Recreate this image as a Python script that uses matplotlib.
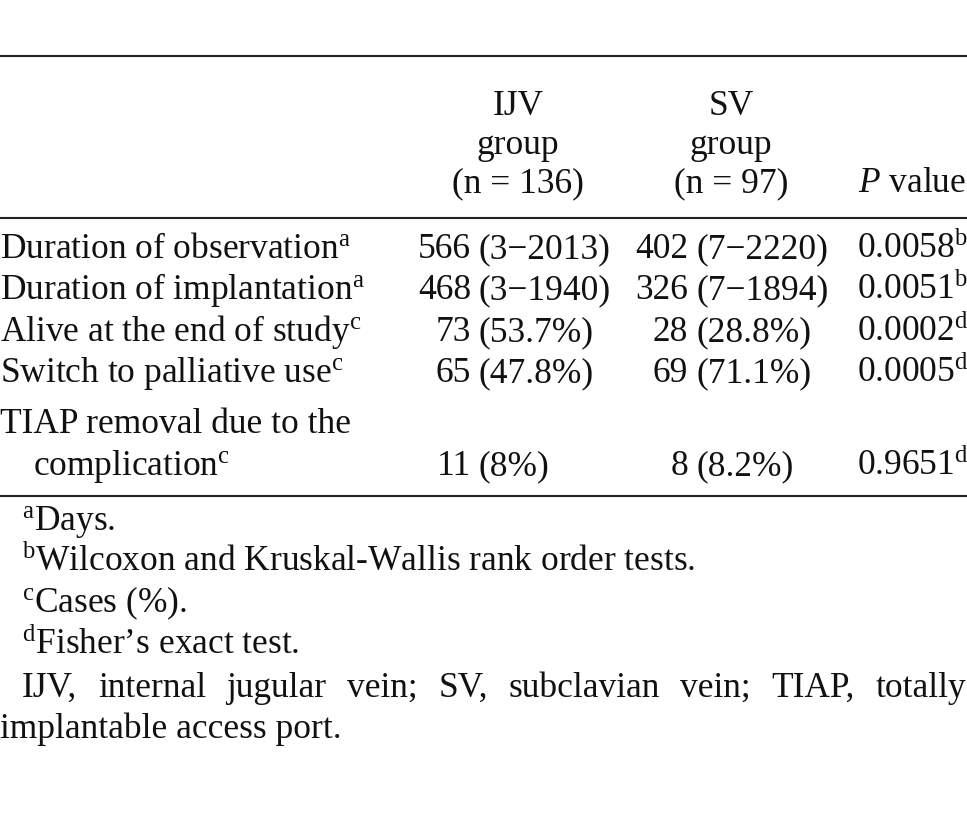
import matplotlib
matplotlib.use("Agg")
import matplotlib.pyplot as plt

plt.rcParams['font.family'] = ['Liberation Serif', 'DejaVu Serif']
plt.rcParams['mathtext.fontset'] = 'custom'
plt.rcParams['mathtext.rm'] = 'Liberation Serif'
plt.rcParams['mathtext.it'] = 'Liberation Serif:italic'

# ---- table content ----
header_ijv = ['IJV', 'group', '(n = 136)']
header_sv = ['SV', 'group', '(n = 97)']
row_labels = ['Duration of observation', 'Duration of implantation',
              'Alive at the end of study', 'Switch to palliative use',
              'TIAP removal due to the\ncomplication']
row_marks = ['a', 'a', 'c', 'c', 'c']
ijv_num = ['566', '468', '73', '65', '11']
ijv_paren = ['(3\u22122013)', '(3\u22121940)', '(53.7%)', '(47.8%)', '(8%)']
sv_num = ['402', '326', '28', '69', '8']
sv_paren = ['(7\u22122220)', '(7\u22121894)', '(28.8%)', '(71.1%)', '(8.2%)']
p_values = ['0.0058', '0.0051', '0.0002', '0.0005', '0.9651']
p_marks = ['b', 'b', 'd', 'd', 'd']
foot_marks = ['a', 'b', 'c', 'd']
foot_texts = ['Days.', 'Wilcoxon and Kruskal-Wallis rank order tests.',
              'Cases (%).', 'Fisher\u2019s exact test.']
abbrev_line1 = ['IJV,', 'internal', 'jugular', 'vein;', 'SV,', 'subclavian',
                'vein;', 'TIAP,', 'totally']
abbrev_line2 = 'implantable access port.'

W, H = 967, 829
fs = 25.5
ink = '#111111'

fig = plt.figure(figsize=(W / 100, H / 100), dpi=100)
ax = fig.add_axes([0, 0, 1, 1])
ax.set_xlim(0, W)
ax.set_ylim(H, 0)
ax.axis('off')


def sup(s):
    return r'$^{\mathrm{%s}}$' % s


# rules
for y in [57, 219, 497]:
    ax.plot([0, W], [y, y], color='#222222', lw=1.5, solid_capstyle='butt')

# header
hdr_y = [115, 154, 192]
for i in range(3):
    ax.text(518, hdr_y[i], header_ijv[i], ha='center', va='baseline', fontsize=fs, color=ink)
    ax.text(731, hdr_y[i], header_sv[i], ha='center', va='baseline', fontsize=fs, color=ink)
ax.text(966, hdr_y[2], r'$P$ value', ha='right', va='baseline', fontsize=fs, color=ink)

# body
row_y = [258, 299, 341, 382, 475]
for i, lab in enumerate(row_labels):
    y = row_y[i]
    if '\n' in lab:
        l1, l2 = lab.split('\n')
        ax.text(0, y - 42, l1, ha='left', va='baseline', fontsize=fs, color=ink)
        ax.text(33, y, l2 + sup(row_marks[i]), ha='left', va='baseline', fontsize=fs, color=ink)
    else:
        ax.text(0, y, lab + sup(row_marks[i]), ha='left', va='baseline', fontsize=fs, color=ink)
    ax.text(471, y, ijv_num[i], ha='right', va='baseline', fontsize=fs, color=ink)
    ax.text(479, y, ijv_paren[i], ha='left', va='baseline', fontsize=fs, color=ink)
    ax.text(688, y, sv_num[i], ha='right', va='baseline', fontsize=fs, color=ink)
    ax.text(696, y, sv_paren[i], ha='left', va='baseline', fontsize=fs, color=ink)
    ax.text(857, y, p_values[i] + sup(p_marks[i]), ha='left', va='baseline', fontsize=fs, color=ink)

# footnotes
foot_y = [530, 571, 612, 654]
for i in range(4):
    ax.text(22, foot_y[i], sup(foot_marks[i]) + foot_texts[i], ha='left', va='baseline',
            fontsize=fs, color=ink)

# justified abbreviation line
fig.canvas.draw()
r = fig.canvas.get_renderer()
words = []
for w in abbrev_line1:
    t = ax.text(0, 697, w, ha='left', va='baseline', fontsize=fs, color=ink)
    words.append(t)
widths = [t.get_window_extent(r).width for t in words]
x0, x1 = 22, 966
gap = (x1 - x0 - sum(widths)) / (len(words) - 1)
x = x0
for t, wd in zip(words, widths):
    t.set_x(x)
    x += wd + gap
ax.text(0, 738, abbrev_line2, ha='left', va='baseline', fontsize=fs, color=ink)

fig.savefig('out.png', dpi=100)
